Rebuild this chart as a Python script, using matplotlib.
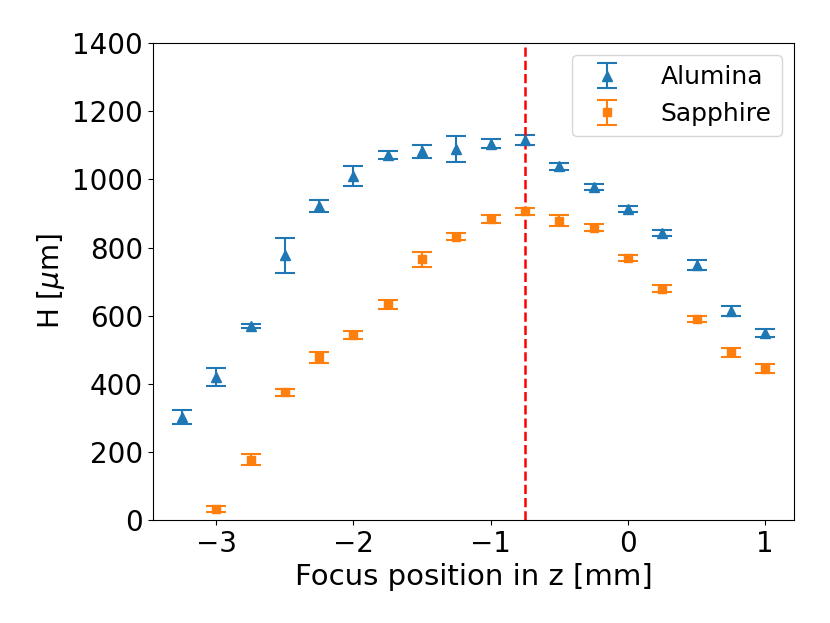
import matplotlib
matplotlib.use("Agg")
import matplotlib.pyplot as plt

# Focus position in z [mm]
z_alumina = [-3.25, -3.0, -2.75, -2.5, -2.25, -2.0, -1.75, -1.5, -1.25,
             -1.0, -0.75, -0.5, -0.25, 0.0, 0.25, 0.5, 0.75, 1.0]
h_alumina = [302, 420, 570, 777, 922, 1009, 1072, 1082, 1089,
             1105, 1115, 1038, 977, 913, 842, 748, 613, 549]
err_alumina = [21, 27, 7, 51, 17, 30, 11, 19, 39,
               13, 15, 11, 9, 8, 8, 14, 15, 11]

z_sapphire = [-3.0, -2.75, -2.5, -2.25, -2.0, -1.75, -1.5, -1.25,
              -1.0, -0.75, -0.5, -0.25, 0.0, 0.25, 0.5, 0.75, 1.0]
h_sapphire = [33, 178, 375, 478, 543, 633, 765, 832,
              884, 906, 879, 858, 769, 679, 591, 492, 445]
err_sapphire = [9, 16, 11, 16, 12, 12, 22, 10,
                11, 11, 16, 10, 10, 10, 9, 12, 12]

best_focus = -0.75


def main():
    plt.rcParams['font.size'] = 20

    fig = plt.figure(figsize=(8.3, 6.23), dpi=100)
    ax = fig.add_axes([0.184, 0.165, 0.773, 0.766])

    ax.errorbar(z_alumina, h_alumina, yerr=err_alumina, fmt='^', color='C0',
                markersize=7, capsize=7, elinewidth=1.5, capthick=1.5,
                label='Alumina')
    ax.errorbar(z_sapphire, h_sapphire, yerr=err_sapphire, fmt='s', color='C1',
                markersize=6, capsize=7, elinewidth=1.5, capthick=1.5,
                label='Sapphire')

    # position of the best focus
    ax.axvline(best_focus, color='red', linestyle='--', linewidth=1.8)

    ax.set_ylim(0, 1400)
    ax.set_xticks([-3, -2, -1, 0, 1])
    ax.set_xlabel('Focus position in z [mm]', fontsize=21)
    ax.set_ylabel(r'H [$\mu$m]')
    ax.legend(loc='upper right', fontsize=18, handletextpad=1.15)

    fig.savefig("out.png", dpi=100)


if __name__ == "__main__":
    main()
